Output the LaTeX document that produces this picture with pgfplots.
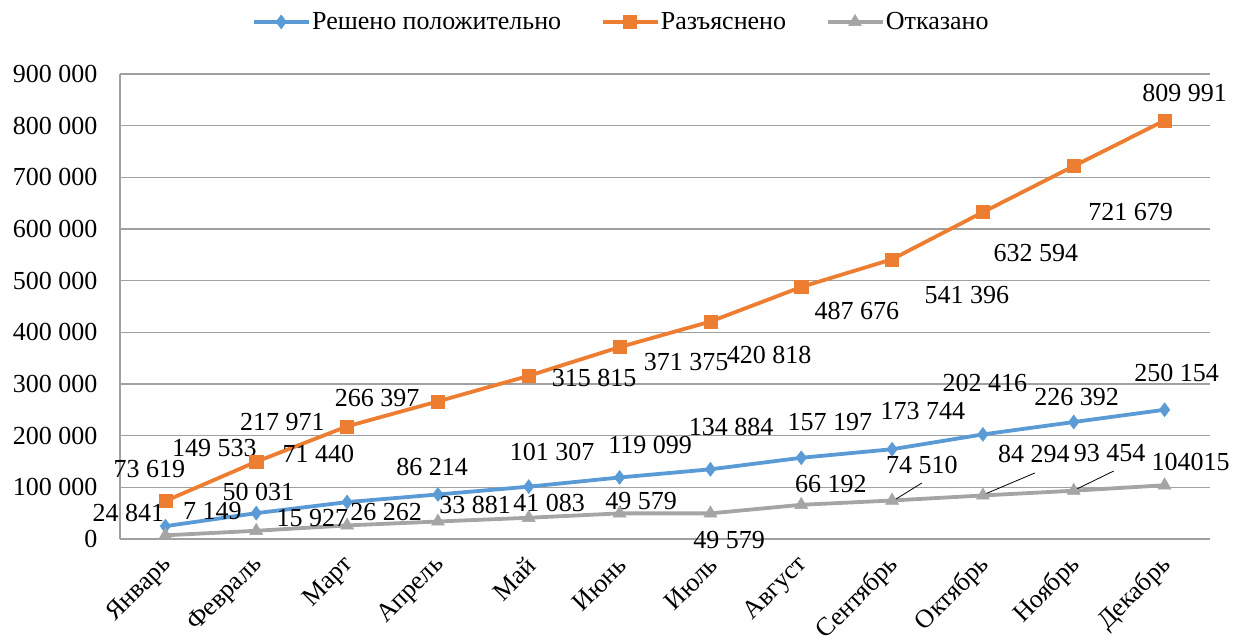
\documentclass[border=0pt]{standalone}
\usepackage{fontspec}
\setmainfont{Liberation Serif}
\usepackage{pgfplots}
\pgfplotsset{compat=1.18}
\definecolor{cblue}{RGB}{91,155,213}
\definecolor{corange}{RGB}{237,125,49}
\definecolor{cgray}{RGB}{165,165,165}
\definecolor{gridc}{RGB}{160,160,160}
\newcommand{\fs}{\fontsize{26bp}{30bp}\selectfont}
\begin{document}
\begin{tikzpicture}
\useasboundingbox (0,0) rectangle (1235bp,644bp);
\begin{axis}[
  at={(120bp,105bp)}, anchor=south west,
  scale only axis, width=1090bp, height=465bp,
  xmin=-0.5, xmax=11.5, ymin=0, ymax=900000,
  clip=false,
  scaled y ticks=false,
  xtick={0,...,11},
  xticklabels={Январь,Февраль,Март,Апрель,Май,Июнь,Июль,Август,Сентябрь,Октябрь,Ноябрь,Декабрь},
  ytick={0,100000,200000,300000,400000,500000,600000,700000,800000,900000},
  yticklabels={0,100 000,200 000,300 000,400 000,500 000,600 000,700 000,800 000,900 000},
  axis lines*=left,
  axis line style={gridc, line width=1.3bp, -},
  major tick length=0pt,
  tick style={draw=none},
  ymajorgrids,
  grid style={gridc, line width=1.3bp},
  ticklabel style={font=\fs},
  yticklabel style={anchor=east, xshift=-19bp},
  xticklabel style={xshift=5bp, yshift=-20bp, rotate=45, anchor=east},
  legend columns=3,
  legend style={draw=none, fill=none, font=\fs, at={(0.4596,1.112)}, anchor=center,
    nodes={inner sep=1.5bp}},
  /tikz/every even column/.append style={column sep=38bp},
  legend image code/.code={\draw[mark repeat=2,mark phase=2] plot coordinates {(0bp,0bp) (27.5bp,0bp) (55bp,0bp)};},
]
\addplot[color=cblue, line width=3.8bp, mark=diamond*, mark size=7bp, mark options={fill=cblue, draw=cblue, line width=0.5bp}]
 coordinates {(0,24841)(1,50031)(2,71440)(3,86214)(4,101307)(5,119099)(6,134884)(7,157197)(8,173744)(9,202416)(10,226392)(11,250154)};
\addlegendentry{Решено положительно}
\addplot[color=corange, line width=3.8bp, mark=square*, mark size=6.5bp, mark options={fill=corange, draw=corange, line width=0.5bp}]
 coordinates {(0,73619)(1,149533)(2,217971)(3,266397)(4,315815)(5,371375)(6,420818)(7,487676)(8,541396)(9,632594)(10,721679)(11,809991)};
\addlegendentry{Разъяснено}
\addplot[color=cgray, line width=3.8bp, mark=triangle*, mark size=7.5bp, mark options={fill=cgray, draw=cgray, line width=0.5bp}]
 coordinates {(0,7149)(1,15927)(2,26262)(3,33881)(4,41083)(5,49579)(6,49579)(7,66192)(8,74510)(9,84294)(10,93454)(11,104015)};
\addlegendentry{Отказано}
% labels: blue
\begin{scope}[every node/.style={font=\fs, inner sep=0pt}]
\node at (axis cs:-0.407,50323) {24 841};
\node at (axis cs:1.023,90970) {50 031};
\node at (axis cs:1.683,164520) {71 440};
\node at (axis cs:2.937,139355) {86 214};
\node at (axis cs:4.257,168390) {101 307};
\node at (axis cs:5.336,181940) {119 099};
\node at (axis cs:6.227,216780) {134 884};
\node at (axis cs:7.316,226450) {157 197};
\node at (axis cs:8.339,247740) {173 744};
\node at (axis cs:9.021,301940) {202 416};
\node at (axis cs:10.033,274840) {226 392};
\node at (axis cs:11.133,321290) {250 154};
% orange
\node at (axis cs:-0.176,135485) {73 619};
\node at (axis cs:0.539,176130) {149 533};
\node at (axis cs:1.287,226450) {217 971};
\node at (axis cs:2.332,272900) {266 397};
\node at (axis cs:4.719,311620) {315 815};
\node at (axis cs:5.732,342580) {371 375};
\node at (axis cs:6.645,356130) {420 818};
\node at (axis cs:7.613,441290) {487 676};
\node at (axis cs:8.823,472260) {541 396};
\node at (axis cs:9.582,553550) {632 594};
\node at (axis cs:10.627,632910) {721 679};
\node at (axis cs:11.221,863230) {809 991};
% gray
\node at (axis cs:0.517,54190) {7 149};
\node at (axis cs:1.617,40645) {15 927};
\node at (axis cs:2.431,52260) {26 262};
\node at (axis cs:3.410,65800) {33 881};
\node at (axis cs:4.224,69680) {41 083};
\node at (axis cs:5.237,73550) {49 579};
\node at (axis cs:6.205,-1935) {49 579};
\node at (axis cs:7.327,106450) {66 192};
\node at (axis cs:8.328,143230) {74 510};
\node at (axis cs:9.560,164520) {84 294};
\node at (axis cs:10.396,166450) {93 454};
\node at (axis cs:11.287,149030) {104015};
\end{scope}
\draw[black, line width=0.8bp] (axis cs:8.328,108390) -- (axis cs:8.009,73550);
\draw[black, line width=0.8bp] (axis cs:9.571,127740) -- (axis cs:8.999,85160);
\draw[black, line width=0.8bp] (axis cs:10.440,131610) -- (axis cs:9.989,92900);
\end{axis}
\end{tikzpicture}
\end{document}
